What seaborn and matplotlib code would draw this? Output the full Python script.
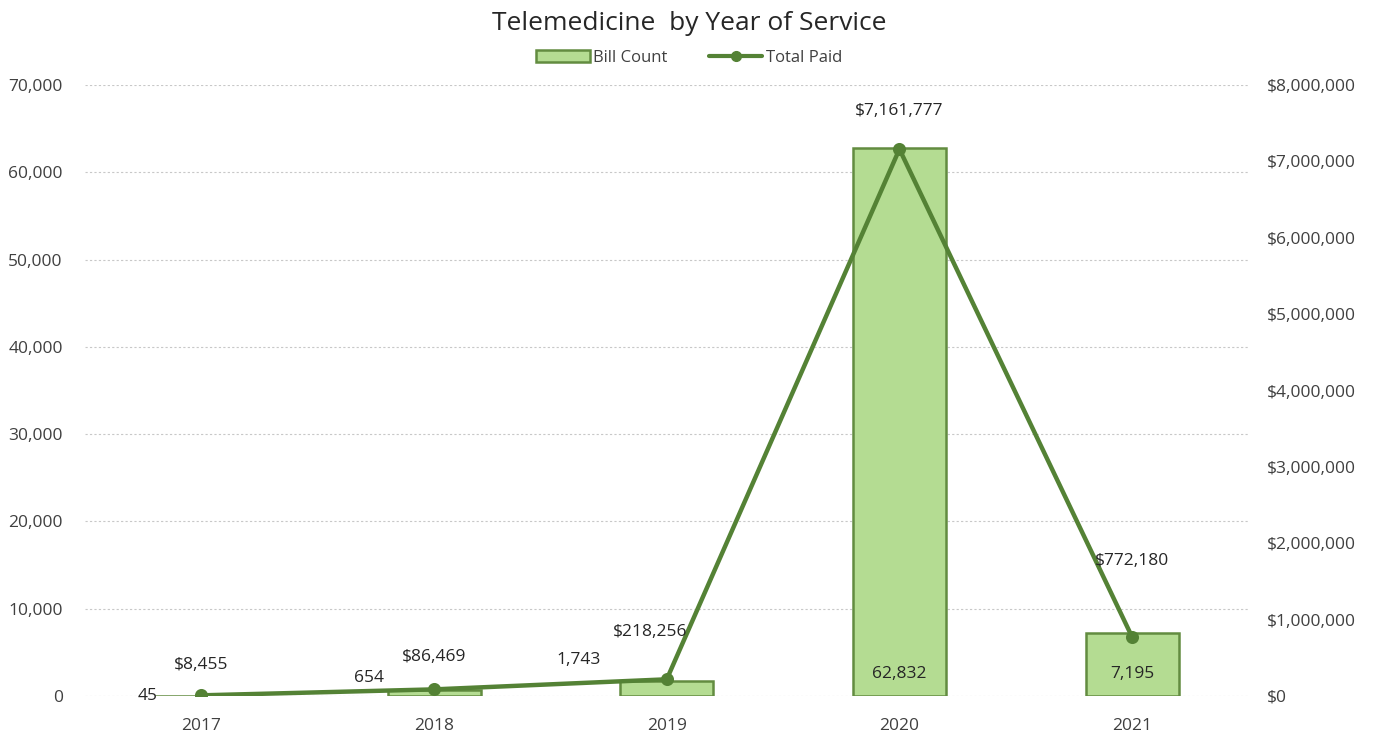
import pandas as pd
import matplotlib.pyplot as plt
import seaborn as sns
from matplotlib.ticker import FuncFormatter
from matplotlib.lines import Line2D
from matplotlib.patches import Patch

# -----------------------------
# Data
# -----------------------------
years = ["2017", "2018", "2019", "2020", "2021"]
bill_count = [45, 654, 1743, 62832, 7195]
total_paid = [8455, 86469, 218256, 7161777, 772180]

df = pd.DataFrame({"Year": years, "Bill Count": bill_count, "Total Paid": total_paid})

sns.set_style("white")
plt.rcParams["font.family"] = ["Open Sans", "DejaVu Sans"]

bar_face = "#b4dc92"
bar_edge = "#628c40"
line_col = "#548235"
text_col = "#404040"

fig = plt.figure(figsize=(13.78, 7.34), dpi=100)
ax = fig.add_axes([0.0617, 0.0518, 0.8443, 0.8322])

sns.barplot(data=df, x="Year", y="Bill Count", color=bar_face,
            width=0.4, edgecolor=bar_edge, linewidth=1.8, saturation=1, ax=ax)

ax.set_ylim(0, 70000)
ax.set_yticks(range(0, 70001, 10000))
ax.yaxis.set_major_formatter(FuncFormatter(lambda v, p: f"{int(v):,}"))
ax.grid(axis="y", color="#c8c8c8", linestyle=(0, (2, 2)), linewidth=0.8)
ax.set_axisbelow(True)
ax.set_xlabel("")
ax.set_ylabel("")
ax.set_xlim(-0.5, 4.5)

ax2 = ax.twinx()
sns.pointplot(data=df, x="Year", y="Total Paid", color=line_col,
              markersize=7, linewidth=3.2, ax=ax2)
ax2.set_ylim(0, 8000000)
ax2.set_yticks(range(0, 8000001, 1000000))
ax2.yaxis.set_major_formatter(FuncFormatter(lambda v, p: f"${int(v):,}"))
ax2.set_ylabel("")
ax2.set_xlim(-0.5, 4.5)

for a in (ax, ax2):
    for s in a.spines.values():
        s.set_visible(False)
    a.tick_params(length=0, labelsize=12.5, colors=text_col)
ax.tick_params(axis="y", pad=16)
ax2.tick_params(axis="y", pad=13)
ax2.tick_params(axis="x", pad=16)
ax.tick_params(axis="x", pad=16)

# bar labels
bar_offsets = [(-0.23, 0), (-0.28, 1400), (-0.38, 2400), (0, 2500), (0, 2500)]
for i, v in enumerate(bill_count):
    dx, dy = bar_offsets[i]
    yy = v + dy if i < 3 else dy
    ax.text(i + dx, yy, f"{v:,}", ha="center", va="center", fontsize=12.5, color="#262626")

# line labels
line_offsets = [(0, 400000), (0, 430000), (-0.07, 620000), (0, 500000), (0, 1000000)]
for i, v in enumerate(total_paid):
    dx, dy = line_offsets[i]
    ax2.text(i + dx, v + dy, f"${v:,}", ha="center", va="center", fontsize=12.5, color="#262626")

fig.suptitle("Telemedicine  by Year of Service", y=0.985, fontsize=19, color="#262626")

handles = [Patch(facecolor=bar_face, edgecolor=bar_edge, linewidth=1.8),
           Line2D([0], [0], color=line_col, linewidth=3, marker="o", markersize=7)]
fig.legend(handles, ["Bill Count", "Total Paid"], loc="center", bbox_to_anchor=(0.5, 0.921),
           ncol=2, frameon=False, fontsize=12, handlelength=3.2, columnspacing=2.5,
           handletextpad=0.2, labelcolor=text_col)

fig.savefig("out.png", dpi=100)
